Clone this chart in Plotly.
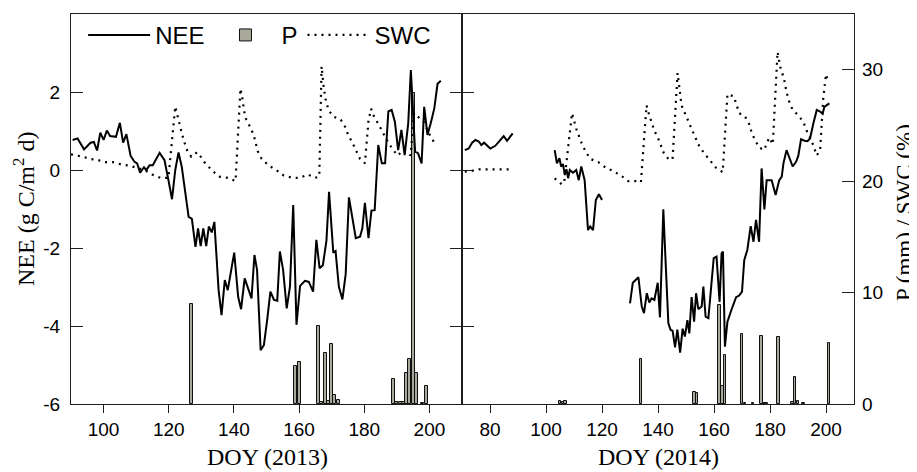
import plotly.graph_objects as go

# ---------------- data ----------------
# 2013 NEE (g C m-2 d-1)
nee13_doy = [90.5, 92, 94, 96, 97, 98, 99, 100, 101, 102, 103.8, 105, 106, 107, 108.3, 109.5, 110.3, 111.2,
             112.4, 113.1, 114.1, 115.1, 117.2, 118.7, 119.9, 121, 122, 123, 124, 125.4, 126.1, 127.1, 128.2,
             129, 129.8, 130.6, 131.5, 132.3, 133.2, 134, 135.3, 136.2, 137.2, 138.1, 140.1, 141.3, 142.2,
             143.3, 145.4, 146.3, 147.1, 148.2, 149.2, 150.2, 151.2, 152.3, 153.3, 154.1, 155.1, 156.2, 157.2,
             158.2, 159.2, 160.3, 161.8, 163, 164.3, 165.3, 166.3, 167.3, 168.4, 169.2, 170.5, 171.2, 172.2,
             173.3, 174.3, 175.3, 176.3, 177.4, 178.7, 179.4, 180.2, 181.3, 182.2, 183.2, 184.3, 185.4, 186.4,
             187.4, 188.4, 189.4, 190.4, 191.4, 192.4, 193.5, 194.3, 195.6, 196.5, 197.6, 198.4, 199.4, 200.4,
             201.5, 202.5, 203.5]
nee13 = [0.77, 0.81, 0.53, 0.70, 0.72, 0.50, 0.96, 0.77, 1.01, 0.87, 0.85, 1.21, 0.70, 0.92, 0.36, 0.21, 0.17, -0.07,
         0.07, 0.0, 0.12, 0.12, 0.44, 0.25, -0.26, -0.75, 0.0, 0.45, 0.08, -0.85, -1.20, -1.25, -1.97,
         -1.50, -1.95, -1.50, -1.95, -1.45, -1.60, -1.33, -3.08, -3.72, -2.82, -3.08, -2.12, -3.25, -3.57,
         -2.78, -3.29, -2.18, -2.56, -4.62, -4.49, -3.85, -3.12, -3.33, -3.35, -2.09, -2.56, -3.55, -2.99,
         -0.90, -3.97, -2.97, -2.84, -2.87, -3.12, -1.79, -2.52, -2.44, -1.81, -0.56, -2.12, -2.08, -2.99,
         -3.32, -2.67, -0.70, -1.20, -1.75, -1.71, -1.50, -0.84, -1.75, -1.04, -1.03, 0.64, 0.17, 0.17,
         1.50, 1.54, 1.24, 0.51, 1.03, 0.38, 1.20, 2.56, 0.47, 0.43, 0.17, 1.62, 0.90, 1.20,
         1.58, 2.21, 2.29]

# 2013 SWC (%)
swc13_doy = [90, 93.6, 95.8, 98.2, 100.6, 102.9, 105.4, 107.7, 110.2, 112.6, 114.9, 117.4, 119.9, 122, 124,
             125.4, 126.9, 128.7, 129.8, 131.2, 133.5, 135.6, 138.1, 140.5, 142, 142.5, 143.2, 143.8, 145.1,
             146.1, 147.3, 148.5, 150.7, 153, 155.3, 157.9, 160.3, 162.7, 164.9, 166.2, 166.9, 167.1, 167.6,
             168.1, 169, 170.5, 172.8, 174.3, 175.1, 176.3, 177.5, 178.7, 180.2, 181.3, 182.1, 183, 184.4,
             185.6, 186.9, 188.4, 190.2, 192.2, 194.2, 195.3, 196.5, 198.3, 200, 202]
swc13 = [22.4, 22.2, 22.0, 21.9, 21.7, 21.7, 21.5, 21.4, 21.2, 21.0, 20.6, 20.3, 20.3, 26.7, 24.3,
         22.9, 22.2, 22.6, 22.2, 21.6, 20.9, 20.4, 20.3, 20.0, 28.3, 27.6, 26.2, 25.5, 24.8,
         24.1, 22.7, 22.0, 21.4, 21.0, 20.5, 20.3, 20.3, 20.6, 20.3, 20.4, 30.3, 29.5, 28.3,
         27.4, 26.4, 25.8, 25.5, 24.8, 24.1, 23.5, 22.8, 22.0, 21.6, 25.4, 26.5, 25.8, 25.1,
         24.4, 23.7, 23.0, 22.3, 22.8, 22.3, 26.1, 25.8, 25.3, 24.2, 23.2]

# 2013 precipitation (mm)
p13_doy = [127, 159, 160, 166, 167, 168, 169, 170, 171, 172, 189, 190, 191, 192, 193, 194, 195, 196, 198, 199]
p13 = [9.0, 3.4, 3.8, 7.0, 0.2, 4.6, 0.3, 5.4, 0.8, 0.4, 2.2, 0.2, 0.2, 0.2, 2.8, 4.0, 27.9, 2.8, 0.1, 1.6]

# 2014 NEE (gaps = missing data)
nee14_doy = [71, 72.4, 73.6, 74.8, 76, 76.9, 77.9, 78.9, 80.1, 81.9, 83.1, 84.3, 84.9, 86.1, 87.3, 88.1, None,
             103.1, 103.9, 104.8, 105.4, 106.1, 106.7, 107.3, 107.9, 108.5, 109.6, 110.8, 111.7, 112.6, 113.8,
             115, 115.8, 116.8, 117.8, 118.9, 120, None,
             130, 131, 133, 134.2, 135, 136, 136.9, 137.7, 138.7, 139.9, 140.7, 141.9, 142.9, 143.7, 144.5,
             145.2, 146.1, 146.9, 147.9, 148.8, 149.6, 150.5, 151.2, 152, 152.9, 153.6, 154.4, 155.6, 156.2,
             157, 158, 159.9, 160.9, 162, 162.7, 163.2, 163.9, 164.8, 166.3, 167.9, 169, 170, 170.8, 171.9,
             173.1, 174.1, 175, 176.1, 177, 178, 178.8, 180.6, 182, 183.3, 184.2, 184.8, 185.9, 187.1, 188.1,
             189.3, 190.1, 191.1, 192.3, 193.4, 194.3, 195.5, 196.7, 197.9, 198.8, 199.4, 200.2, 201.2]
nee14 = [0.51, 0.55, 0.70, 0.77, 0.73, 0.64, 0.70, 0.62, 0.55, 0.62, 0.73, 0.81, 0.87, 0.75, 0.87, 0.94, None,
         0.51, 0.17, 0.30, 0.09, 0.15, -0.13, 0.02, -0.21, 0.0, -0.07, 0.0, -0.26, 0.09, -0.26,
         -1.54, -1.45, -1.54, -0.77, -0.62, -0.77, None,
         -3.42, -2.89, -2.75, -3.50, -3.67, -3.16, -3.40, -3.29, -3.33, -2.89, -3.78, -1.01, -2.65, -3.93, -4.10,
         -4.12, -4.55, -4.09, -4.68, -4.07, -4.27, -3.85, -4.19, -3.26, -3.89, -3.16, -3.57, -3.50, -2.99,
         -3.76, -3.80, -2.26, -2.22, -3.38, -2.14, -2.09, -4.53, -3.89, -3.57, -3.26, -3.22, -3.12, -2.31, -2.05,
         -1.44, -1.84, -1.28, -1.84, 0.04, -1.01, -0.26, -0.26, -0.64, -0.26, -0.17, 0.17, 0.51, 0.26, 0.09,
         0.21, 0.36, 0.79, 0.75, 0.74, 0.81, 1.20, 1.54, 1.50, 1.44, 1.62, 1.67, 1.71]

# 2014 SWC (%)
swc14_doy = [71, 73, 76, 88, None,
             103.1, 105.7, 106.5, 109.3, 110.8, 112.9, 114.3, 115.8, 118.7, 121.4, 124, 126.8, 129.4, 132.1,
             133.9, 135.9, 136.9, 138.6, 140.1, 141, 142.1, 144, 145.2, 147, 147.6, 148.4, 149.6, 150.8, 152,
             153.2, 154.4, 156.2, 158, 160.7, 163.1, 164.8, 167.1, 168.1, 169, 171.1, 172.6, 173.4, 174.6,
             176.2, 178, 178.8, 179.8, 181, 182.7, 183.6, 185, 185.9, 186.9, 188.1, 190.5, 192.1, 193.3,
             194.5, 195.5, 196.7, 197.9, 199, 200, 200.5]
swc14 = [20.85, 20.9, 21.05, 21.05, None,
         20.25, 19.7, 19.9, 26.1, 24.7, 23.3, 22.6, 22.0, 21.7, 21.2, 20.9, 20.5, 20.0, 20.0,
         19.9, 26.8, 25.9, 24.6, 23.8, 23.2, 22.5, 21.9, 22.0, 29.7, 28.2, 26.8, 26.1, 25.4, 24.7,
         24.1, 23.3, 22.6, 22.0, 21.2, 20.8, 27.8, 27.6, 26.8, 26.1, 25.8, 25.1, 24.4, 23.7,
         23.0, 22.8, 23.4, 23.9, 23.3, 31.6, 30.3, 29.2, 28.0, 27.1, 26.4, 25.8, 25.2, 24.4,
         23.8, 23.2, 22.3, 22.8, 27.4, 29.6, 29.1]

# 2014 precipitation (mm)
p14_doy = [105, 106, 107, 134, 153, 154, 162, 163, 164, 170, 171, 174, 177, 178, 179, 183, 188, 189, 190, 192, 201]
p14 = [0.3, 0.2, 0.3, 4.0, 1.1, 1.0, 8.9, 1.6, 4.4, 6.3, 0.1, 0.1, 6.1, 0.1, 0.1, 6.0, 0.2, 2.4, 0.3, 0.1, 5.5]

nee_ticks = [-6, -4, -2, 0, 2, 4]
nee_ticktext = ["-6", "-4", "-2", "0", "2", "4"]
ps_ticks = [0, 10, 20, 30]
x13_ticks = [100, 120, 140, 160, 180, 200]
x14_ticks = [80, 100, 120, 140, 160, 180, 200]

# ---------------- figure ----------------
SANS = "Liberation Sans, Arial, sans-serif"
SERIF = "Liberation Serif, Times New Roman, serif"
BAR_FILL = "#a9a99b"
AX = "#1e1e1e"

fig = go.Figure()

bar_style = dict(color=BAR_FILL, line=dict(color="#111111", width=1))
fig.add_trace(go.Bar(x=p13_doy, y=p13, width=0.9, marker=bar_style, name="P",
                     legendgroup="P", legendrank=2, xaxis="x", yaxis="y"))
fig.add_trace(go.Bar(x=p14_doy, y=p14, width=0.9, marker=bar_style, name="P",
                     legendgroup="P", showlegend=False, xaxis="x2", yaxis="y3"))

swc_line = dict(color="black", width=2.2, dash="2px,5px")
fig.add_trace(go.Scatter(x=swc13_doy, y=swc13, mode="lines", line=swc_line, name="SWC",
                         legendgroup="SWC", legendrank=3, xaxis="x", yaxis="y"))
fig.add_trace(go.Scatter(x=swc14_doy, y=swc14, mode="lines", line=swc_line, name="SWC",
                         legendgroup="SWC", showlegend=False, connectgaps=False, xaxis="x2", yaxis="y3"))

nee_line = dict(color="black", width=2)
fig.add_trace(go.Scatter(x=nee13_doy, y=nee13, mode="lines", line=nee_line, name="NEE",
                         legendgroup="NEE", legendrank=1, xaxis="x", yaxis="y2"))
fig.add_trace(go.Scatter(x=nee14_doy, y=nee14, mode="lines", line=nee_line, name="NEE",
                         legendgroup="NEE", showlegend=False, connectgaps=False, xaxis="x2", yaxis="y4"))

split = (462 - 71) / 783

common_x = dict(showgrid=False, zeroline=False, showline=True, linecolor=AX, linewidth=1.3,
                mirror=True, ticks="outside", ticklen=8, tickwidth=1.3, tickcolor=AX,
                tickfont=dict(family=SANS, size=19, color="black"))
common_y = dict(showgrid=False, zeroline=False, showline=True, linecolor=AX, linewidth=1.3,
                ticks="inside", ticklen=12, tickwidth=1.3, tickcolor=AX,
                tickfont=dict(family=SANS, size=19, color="black"))

# the page body adds an 8px offset, so the figure is 8px smaller and margins shifted
fig.update_layout(
    width=909, height=464,
    margin=dict(l=63, r=63, t=6, b=68, autoexpand=False),
    paper_bgcolor="white", plot_bgcolor="white",
    bargap=0, barmode="overlay",
    xaxis=dict(domain=[0, split], range=[90, 210], anchor="y", tickvals=x13_ticks, **common_x),
    xaxis2=dict(domain=[split, 1], range=[70, 210], anchor="y3", tickvals=x14_ticks, **common_x),
    yaxis=dict(domain=[0, 1], range=[0, 35], anchor="x", visible=False),
    yaxis2=dict(range=[-6, 4], overlaying="y", anchor="x", side="left", mirror="ticks",
                tickvals=nee_ticks, ticktext=nee_ticktext, ticklabelstandoff=6, **common_y),
    yaxis3=dict(domain=[0, 1], range=[0, 35], anchor="x2", side="right",
                tickvals=ps_ticks, ticklabelstandoff=3, **common_y),
    yaxis4=dict(range=[-6, 4], overlaying="y3", anchor="x2", side="left",
                tickvals=nee_ticks, showticklabels=False, **common_y),
    legend=dict(orientation="h", x=0.0155, y=1.003, xanchor="left", yanchor="top",
                bgcolor="rgba(0,0,0,0)", itemwidth=62,
                font=dict(family=SANS, size=24, color="black")),
    showlegend=True,
)

fig.add_annotation(text="NEE (g C/m<sup>2</sup> d)", textangle=-90, xref="paper", yref="paper",
                   x=(24 - 71) / 783, y=0.5, xanchor="center", yanchor="middle", showarrow=False,
                   font=dict(family=SERIF, size=24, color="black"))
fig.add_annotation(text="P (mm) / SWC (%)", textangle=-90, xref="paper", yref="paper",
                   x=(905 - 71) / 783, y=0.49, xanchor="center", yanchor="middle", showarrow=False,
                   font=dict(family=SERIF, size=23, color="black"))
fig.add_annotation(text="DOY (2013)", xref="paper", yref="paper",
                   x=(267 - 71) / 783, y=(404 - 457) / 390, xanchor="center", yanchor="middle",
                   showarrow=False, font=dict(family=SERIF, size=24, color="black"))
fig.add_annotation(text="DOY (2014)", xref="paper", yref="paper",
                   x=(658 - 71) / 783, y=(404 - 457) / 390, xanchor="center", yanchor="middle",
                   showarrow=False, font=dict(family=SERIF, size=24, color="black"))

fig.write_html("out.html")
